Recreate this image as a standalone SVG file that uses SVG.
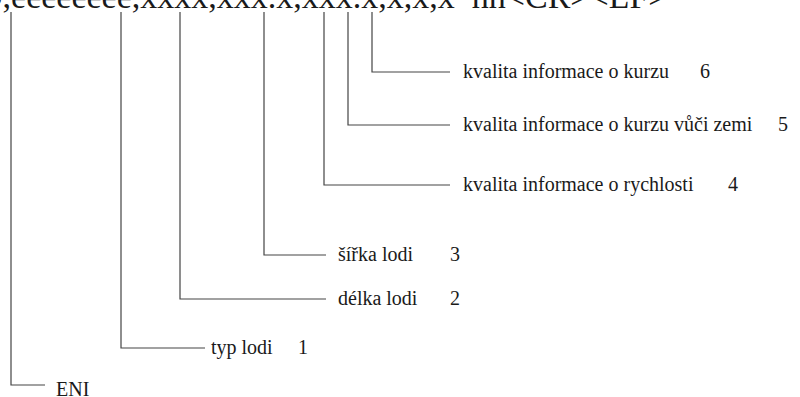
<svg xmlns="http://www.w3.org/2000/svg" width="800" height="397" viewBox="0 0 800 397">
<style>
.lbl{font-family:"Liberation Serif","Times New Roman",serif;font-size:20px;fill:#1a1a1a}
.top{font-family:"Liberation Serif","Times New Roman",serif;font-size:34px;fill:#1a1a1a}
.conn path{fill:none;stroke:#444;stroke-width:1.2}
</style>
<rect width="800" height="397" fill="#fff"/>
<text class="top" x="-22" y="8">D,eeeeeeee,xxxx,xxx.x,xxx.x,x,x,x*hh&lt;CR&gt;&lt;LF&gt;</text>
<g class="conn" id="connectors">
<path d="M11,12 V385 H45"/>
<path d="M121,12 V348 H205"/>
<path d="M180,12 V299 H326"/>
<path d="M264,12 V255 H326"/>
<path d="M324,12 V185 H450"/>
<path d="M348,12 V125 H450"/>
<path d="M372,12 V72 H450"/>
</g>
<g id="n6"><text class="lbl" x="463" y="78">kvalita informace o kurzu</text><text class="lbl" x="700" y="78">6</text></g>
<g id="n5"><text class="lbl" x="463" y="131">kvalita informace o kurzu vůči zemi</text><text class="lbl" x="778" y="131">5</text></g>
<g id="n4"><text class="lbl" x="463" y="191">kvalita informace o rychlosti</text><text class="lbl" x="728" y="191">4</text></g>
<g id="n3"><text class="lbl" x="338" y="261">šířka lodi</text><text class="lbl" x="450" y="261">3</text></g>
<g id="n2"><text class="lbl" x="338" y="305">délka lodi</text><text class="lbl" x="450" y="305">2</text></g>
<g id="n1"><text class="lbl" x="211" y="354">typ lodi</text><text class="lbl" x="298" y="354">1</text></g>
<g id="n0"><text class="lbl" x="56" y="396">ENI</text></g>
</svg>
